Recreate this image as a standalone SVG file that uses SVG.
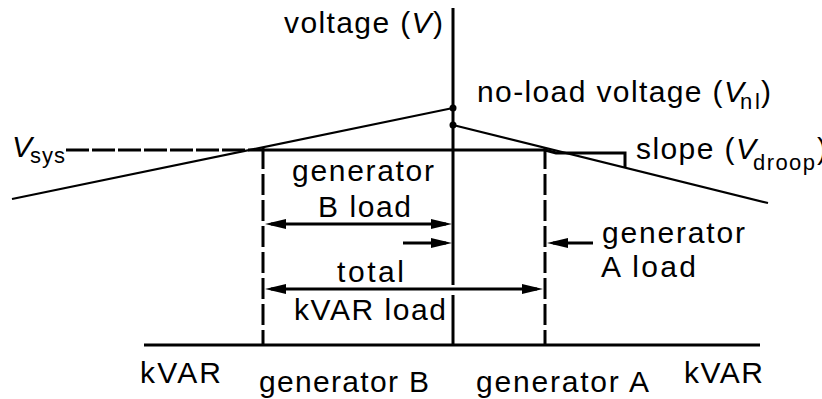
<svg xmlns="http://www.w3.org/2000/svg" width="822" height="399" viewBox="0 0 822 399">
<style>
text{font-family:"Liberation Sans",Arial,sans-serif;font-size:30px;fill:#000}
.sub{font-size:22px}
.it{font-style:italic}
.thick{stroke:#000;stroke-width:3;fill:none}
.thin{stroke:#000;stroke-width:2.2;fill:none}
.dashv{stroke:#000;stroke-width:3;stroke-dasharray:21 5;fill:none}
.dashh{stroke:#000;stroke-width:3;stroke-dasharray:23 3;fill:none}
.arr{stroke:#000;stroke-width:3;fill:none}
</style>
<defs>
<marker id="ah" markerUnits="userSpaceOnUse" markerWidth="22" markerHeight="12" refX="15" refY="6" orient="auto-start-reverse">
<path d="M0,1 L21,6 L0,11 z" fill="#000"/>
</marker>
</defs>
<g id="connectors">
<line id="axis-top" class="thick" x1="453" y1="8" x2="453" y2="285"/>
<line id="axis-bottom" class="thick" x1="453" y1="295" x2="453" y2="345"/>
<line id="baseline" class="thick" x1="144" y1="345" x2="760" y2="345"/>
<line id="vsys-dashed" class="dashh" x1="66" y1="150" x2="263" y2="150"/>
<line id="vsys-solid" class="thick" x1="263" y1="150" x2="545" y2="150"/>
<polyline id="slope-bracket" class="thick" points="545,150 556,153 625,153 625,167"/>
<line id="dash-b" class="dashv" x1="263" y1="148" x2="263" y2="345"/>
<line id="dash-a" class="dashv" x1="545" y1="148" x2="545" y2="345"/>
<line id="droop-b" class="thin" x1="12" y1="199" x2="453" y2="108"/>
<line id="droop-a" class="thin" x1="453" y1="125" x2="768" y2="203"/>
<circle cx="453" cy="108" r="3.5" fill="#000"/>
<circle cx="453" cy="125" r="3.5" fill="#000"/>
<line id="arrow-b-load" class="arr" x1="271" y1="224" x2="446" y2="224" marker-start="url(#ah)" marker-end="url(#ah)"/>
<line id="arrow-b-small" class="arr" x1="403" y1="243" x2="446" y2="243" marker-end="url(#ah)"/>
<line id="arrow-a-load" class="arr" x1="593" y1="243" x2="553" y2="243" marker-end="url(#ah)"/>
<line id="arrow-total" class="arr" x1="271" y1="289" x2="537" y2="289" marker-start="url(#ah)" marker-end="url(#ah)"/>
</g>
<g id="label-voltage"><text x="284" y="33" textLength="159">voltage (<tspan class="it">V</tspan>)</text></g>
<g id="label-noload">
<text x="477" y="102" textLength="267">no-load voltage (<tspan class="it">V</tspan></text>
<text class="sub" x="740" y="109" textLength="20">nl</text>
<text x="761" y="102">)</text>
</g>
<g id="label-vsys">
<text class="it" x="12" y="157">V</text>
<text class="sub" x="30" y="163" textLength="35">sys</text>
</g>
<g id="label-slope">
<text x="636" y="159" textLength="120">slope (<tspan class="it">V</tspan></text>
<text class="sub" x="753" y="170" textLength="62">droop</text>
<text x="817" y="159">)</text>
</g>
<g id="label-gen-b-load">
<text x="292" y="181" textLength="142">generator</text>
<text x="318" y="217" textLength="93">B load</text>
</g>
<g id="label-total">
<text x="337" y="282" textLength="67">total</text>
<text x="294" y="320" textLength="152">kVAR load</text>
</g>
<g id="label-gen-a-load">
<text x="602" y="243" textLength="143">generator</text>
<text x="601" y="277" textLength="95">A load</text>
</g>
<g id="label-bottom">
<text x="140" y="383" textLength="81">kVAR</text>
<text x="259" y="392" textLength="170">generator B</text>
<text x="476" y="392" textLength="173">generator A</text>
<text x="684" y="383" textLength="79">kVAR</text>
</g>
</svg>
